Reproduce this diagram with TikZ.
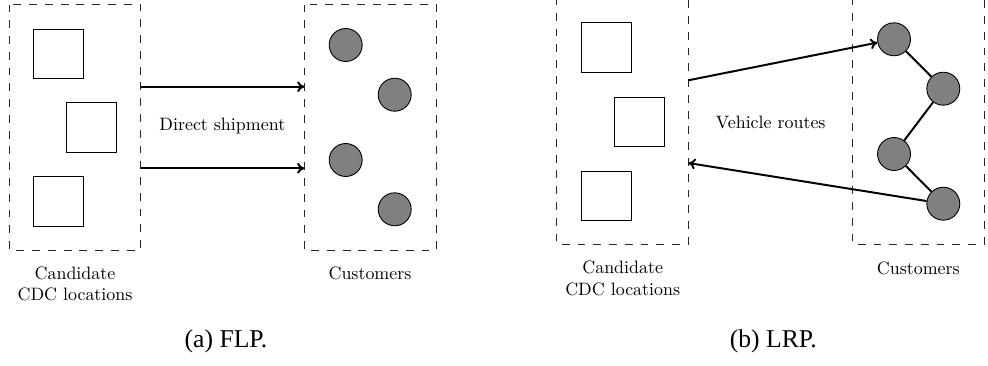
\documentclass[tikz,border=0pt]{standalone}
\usepackage{fontspec}
\usetikzlibrary{arrows.meta}
\newfontfamily\capfont{LiberationSerif}[Extension=.ttf, UprightFont=*-Regular]
\begin{document}
\begin{tikzpicture}[x=0.558pt,y=-0.558pt,
  dashbox/.style={draw=black!85, dash pattern=on 4.4pt off 4.4pt, line width=0.55pt},
  site/.style={draw, line width=0.45pt, minimum size=27.6pt, inner sep=0pt},
  cust/.style={circle, draw, fill=black!50, line width=0.5pt, minimum size=18.4pt, inner sep=0pt},
  flow/.style={-{To[length=4pt,width=6pt]}, line width=1.1pt},
  route/.style={line width=1.1pt},
  lbl/.style={font=\fontsize{10}{12.1}\selectfont, align=center},
  captext/.style={font=\capfont\fontsize{14.3}{16}\selectfont}]
\useasboundingbox (0,0) rectangle (988,365);

% ---------- (a) facility location problem ----------
\draw[dashbox] (9.5,4.5) rectangle (140.5,250);
\draw[dashbox] (304.3,4.5) rectangle (436,250);

\node[site] (as1) at (58.5,53.7) {};
\node[site] (as2) at (91.5,127.5) {};
\node[site] (as3) at (58.5,201.3) {};

\node[cust] (ac1) at (345.7,45) {};
\node[cust] (ac2) at (394.7,94.7) {};
\node[cust] (ac3) at (345.7,160) {};
\node[cust] (ac4) at (394.7,209.3) {};

\coordinate (aout1) at (140.5,86.7);
\coordinate (ain1)  at (304.3,86.7);
\coordinate (aout2) at (140.5,168.3);
\coordinate (ain2)  at (304.3,168.3);
\draw[flow] (aout1) -- (ain1);
\draw[flow] (aout2) -- (ain2);

\node[lbl] (aship) at (222.3,126) {Direct shipment};
\node[lbl] (acand) at (75,284) {Candidate\\CDC locations};
\node[lbl] (acust) at (370,273.5) {Customers};
\node[captext] (acap) at (226,341.7) {(a) FLP.};

% ---------- (b) location-routing problem ----------
\draw[dashbox] (556.7,-3) rectangle (688.3,244.3);
\draw[dashbox] (852.7,-3) rectangle (984.3,244.3);

\node[site] (bs1) at (606.2,47.5) {};
\node[site] (bs2) at (639.2,121.7) {};
\node[site] (bs3) at (606.2,195.7) {};

\node[cust] (bc1) at (894,39.3) {};
\node[cust] (bc2) at (943.3,88.7) {};
\node[cust] (bc3) at (894,154) {};
\node[cust] (bc4) at (943.3,203.7) {};

\coordinate (bout) at (688.3,80.3);
\coordinate (bin)  at (688.3,163);
\draw[flow] (bout) -- (bc1);
\draw[route] (bc1) -- (bc2);
\draw[route] (bc2) -- (bc3);
\draw[route] (bc3) -- (bc4);
\draw[flow] (bc4) -- (bin);

\node[lbl] (broute) at (770.7,122) {Vehicle routes};
\node[lbl] (bcand) at (622.7,278.4) {Candidate\\CDC locations};
\node[lbl] (bcust) at (918.3,267.9) {Customers};
\node[captext] (bcap) at (773.3,341.7) {(b) LRP.};
\end{tikzpicture}
\end{document}
